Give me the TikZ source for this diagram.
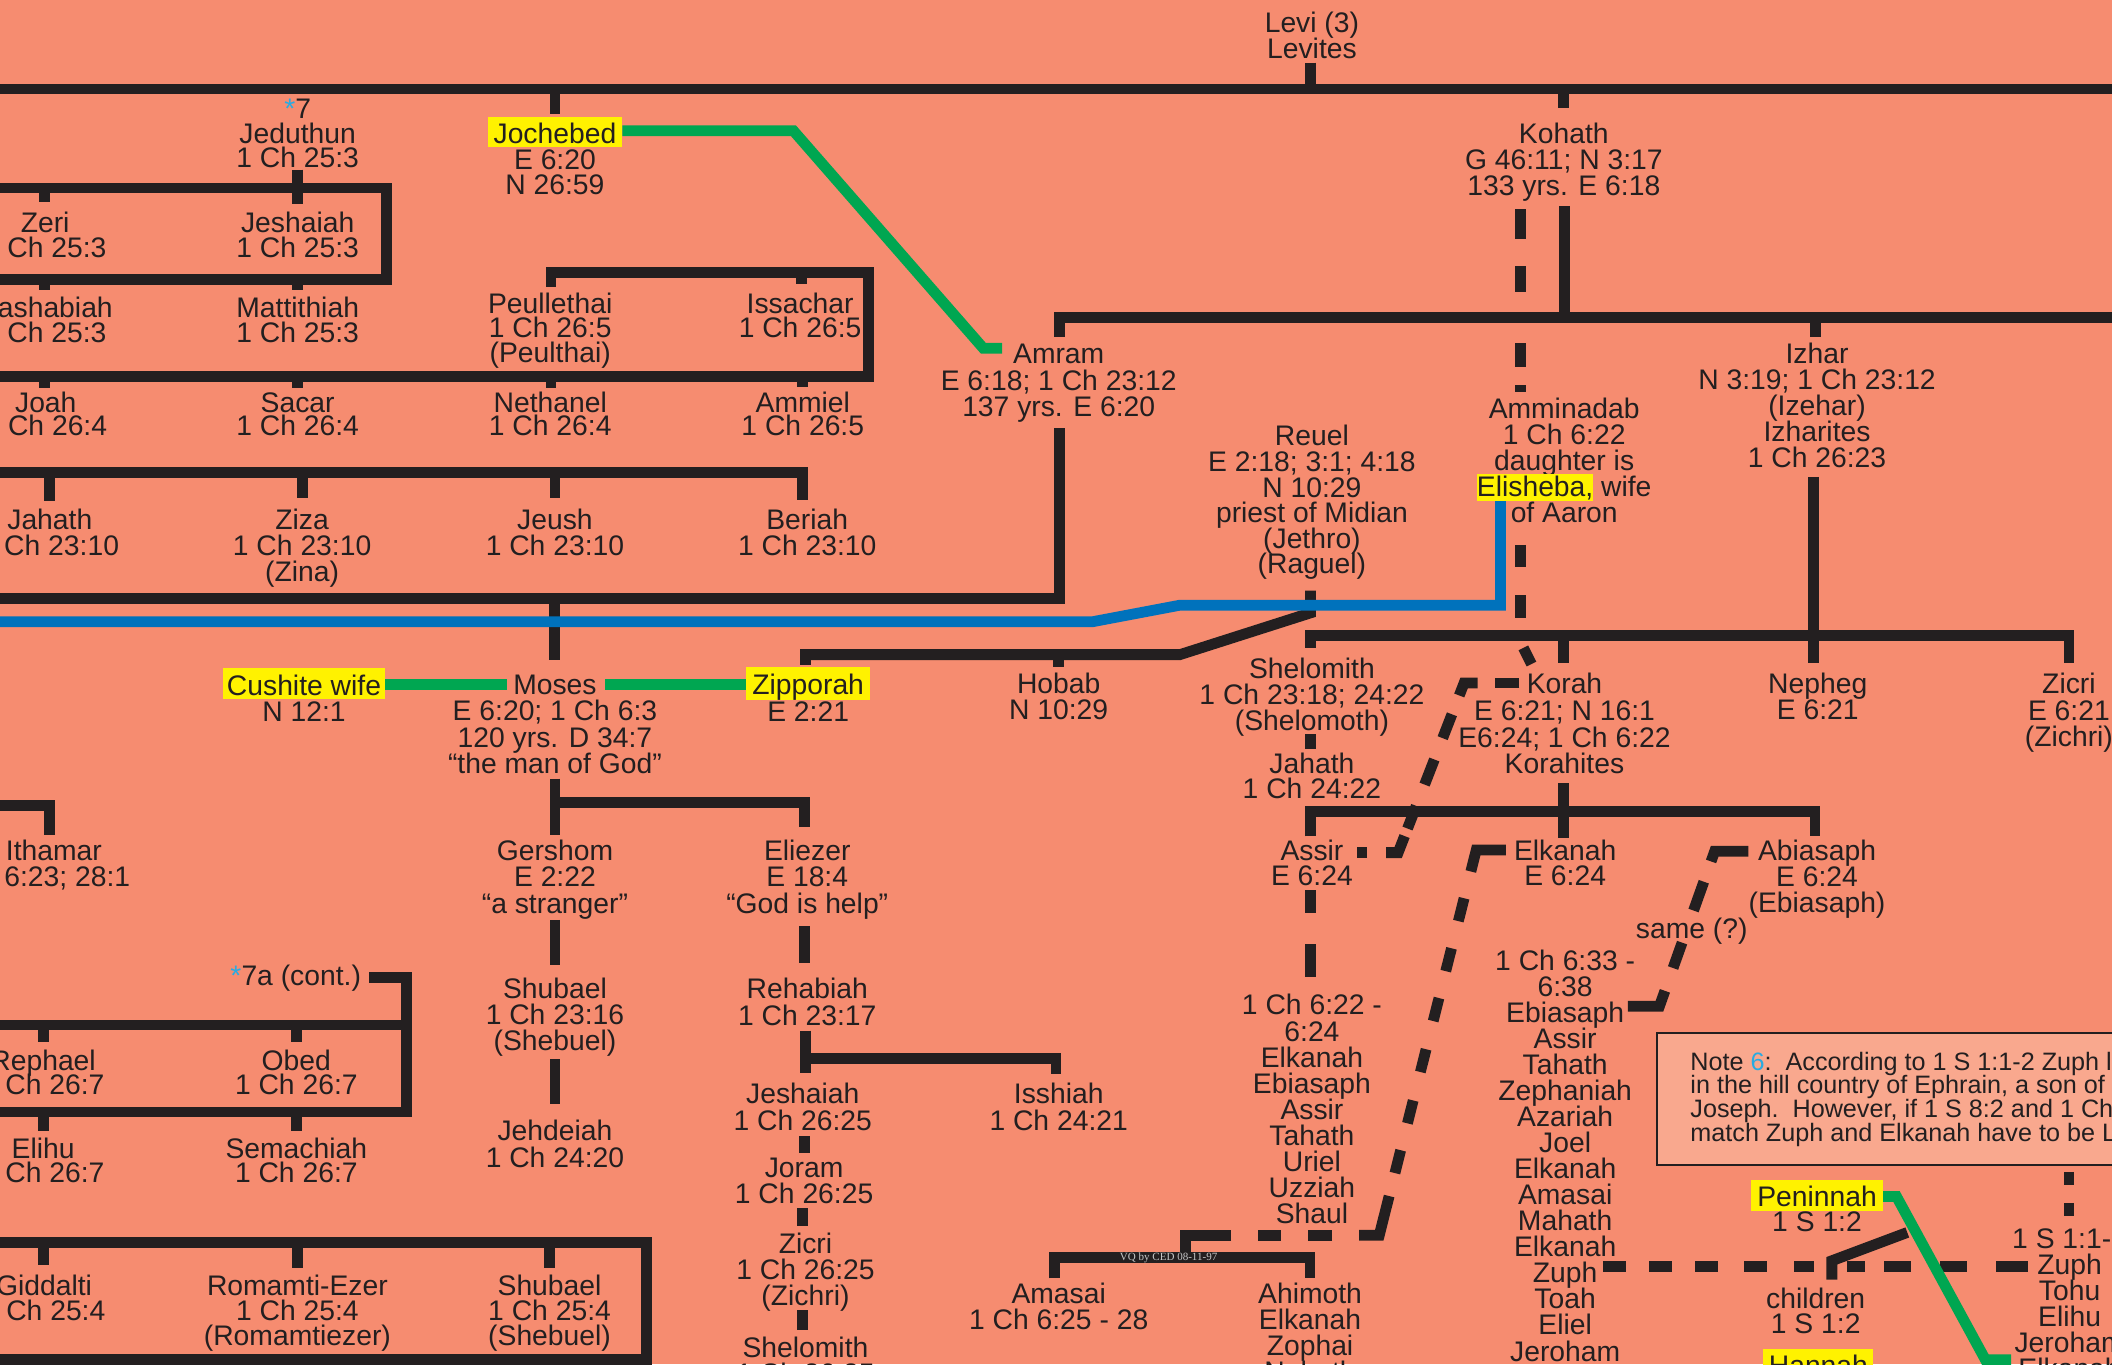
\documentclass[tikz,border=0pt]{standalone}
\usepackage{fontspec}
\setmainfont{Liberation Sans}
\newfontfamily\vqfont{Liberation Serif}
\usetikzlibrary{calc}
\definecolor{bg}{RGB}{246,140,112}
\definecolor{ink}{RGB}{35,31,32}
\definecolor{hly}{RGB}{255,242,0}
\definecolor{gr}{RGB}{0,166,81}
\definecolor{bl}{RGB}{0,114,188}
\definecolor{sb}{RGB}{41,171,226}
\definecolor{notefill}{RGB}{249,168,142}
\newcommand\R{\rule{0pt}{20pt}}
\newcommand\fs[1]{\fontsize{21}{#1}\selectfont\lineskiplimit=-100pt\relax}
\newcommand\fsn{\fontsize{18.7}{17.6}\selectfont\lineskiplimit=-100pt\relax}
\newcommand\fsvq{\vqfont\fontsize{8.2}{8.2}\selectfont}
\newcommand\hl[2][4pt]{{\fboxsep=0pt\colorbox{hly}{\rule[-3pt]{0pt}{23pt}\hspace{#1}#2\hspace{#1}}}}
\newcommand\hlE[1]{{\fboxsep=0pt\colorbox{hly}{\rule[-3pt]{0pt}{20pt}#1}}}
\newcommand\bstar{{\color{sb}*}}
\begin{document}
\begin{tikzpicture}[x=1pt,y=-1pt,
  t/.style={align=center, inner sep=0pt, outer sep=0pt, anchor=north, text=ink, font=\fs{19.4}, yshift=-1.5pt},
  bs/.style={font=\fs{#1}},
  ln/.style={draw=ink, line width=8pt},
  gln/.style={draw=gr, line width=8pt},
  bln/.style={draw=bl, line width=8pt}]
\useasboundingbox (0,0) rectangle (1568,1013);
\fill[bg] (0,0) rectangle (1568,1013);
\clip (0,0) rectangle (1568,1013);

% ---------- solid connectors ----------
\draw[ln] (0,66) -- (1568,66);
\draw[ln] (973,46.5) -- (973,66);
\draw[ln] (412,66) -- (412,85);
\draw[ln] (1161,66) -- (1161,80.4);
% Jeduthun box
\draw[ln] (221,126) -- (221,139.6);
\draw[ln] (0,139.6) -- (287,139.6) -- (287,207.5) -- (0,207.5);
\foreach \x/\a/\b in {33.3/139.6/149.7, 221/139.6/151.7, 33.3/207.5/215.3, 221/207.5/215.3}
  \draw[ln] (\x,\a) -- (\x,\b);
% Peullethai / Issachar box
\draw[ln] (409,212.9) -- (409,202.3) -- (645,202.3) -- (645,279.4) -- (0,279.4);
\foreach \x/\a/\b in {595/202.3/211, 33.3/279.4/288.4, 221/279.4/288.4, 409/279.4/288.4, 596/279.4/287.6}
  \draw[ln] (\x,\a) -- (\x,\b);
% Jahath row
\draw[ln] (0,350.5) -- (596,350.5) -- (596,371);
\foreach \x/\b in {36.7/371.7, 224.3/370, 412/370}
  \draw[ln] (\x,350.5) -- (\x,\b);
% Kohath
\draw[ln] (1161.5,153) -- (1161.5,235.5);
\draw[ln] (786.5,250) -- (786.5,235.5) -- (1568,235.5);
\draw[ln] (1348,235.5) -- (1348,250);
% Amram
\draw[ln] (786.5,318) -- (786.5,444.5) -- (0,444.5);
\draw[ln] (411.6,444.5) -- (411.6,490);
% Reuel
\draw[ln] (973,438.5) -- (973,455) -- (876,486) -- (598,486) -- (598,493.7);
\draw[ln] (786,486) -- (786,495);
% Izhar
\draw[ln] (1346.6,354) -- (1346.6,492);
\draw[ln] (973,481) -- (973,471.8) -- (1536,471.8) -- (1536,492.4);
\draw[ln] (1161,471.8) -- (1161,492);
\draw[ln] (973,545) -- (973,556);
% Korah sons
\draw[ln] (1161,581.5) -- (1161,622);
\draw[ln] (973,621) -- (973,602.4) -- (1347.5,602.4) -- (1347.5,620.6);
% Moses sons
\draw[ln] (412,578) -- (412,620);
\draw[ln] (412,595.5) -- (597,595.5) -- (597,613.7);
\draw[ln] (0,598) -- (36.7,598) -- (36.7,620);
\draw[ln] (412,683) -- (412,716.5);
\draw[ln] (412,786.5) -- (412,819.7);
\draw[ln] (597,687.5) -- (597,714.7);
\draw[ln] (597.8,765.2) -- (597.8,796.9);
\draw[ln] (597.8,786) -- (784,786) -- (784,797.4);
\draw[ln] (597,843.5) -- (597,856.3);
\draw[ln] (596,897) -- (596,910.3);
\draw[ln] (596,972.7) -- (596,987.5);
% 7a box
\draw[ln] (274,725.5) -- (302,725.5) -- (302,825.6) -- (0,825.6);
\draw[ln] (0,761) -- (302,761);
\foreach \x/\a/\b in {32.2/761/773.4, 220/761/773.4, 32.2/825.6/839.5, 220/825.6/839.5}
  \draw[ln] (\x,\a) -- (\x,\b);
% Giddalti box
\draw[ln] (0,922.5) -- (479.7,922.5) -- (479.7,1009.5) -- (0,1009.5);
\foreach \x/\b in {32.5/939.2, 220.8/941.7, 408/941.7}
  \draw[ln] (\x,922.5) -- (\x,\b);
% Amasai / Ahimoth
\draw[ln] (782.6,949) -- (782.6,933.6) -- (972.6,933.6) -- (972.6,949);
% children
\draw[ln] (1360,950) -- (1360,936) -- (1416,915);

% ---------- dashed connectors ----------
\draw[ln, dash pattern=on 22.3pt off 19.8pt on 19.1pt off 38.4pt on 17.3pt off 13.7pt on 5pt off 50pt] (1129,155.4) -- (1129,291);
\draw[ln, dash pattern=on 16.4pt off 20.8pt on 17.2pt off 50pt] (1129,404.6) -- (1129,470);
\draw[ln] (1131,481) -- (1137,493);
% Korah -> Assir
\coordinate (C1) at (1087,507);
\coordinate (C2) at (1038,633);
\draw[ln] (1128,507) -- (1110,507);
\draw[ln] (1097,507) -- (C1) -- ($(C1)!10pt!(C2)$);
\foreach \a/\b in {25/44,61/81,98/116}
  \draw[ln] ($(C1)!\a pt!(C2)$) -- ($(C1)!\b pt!(C2)$);
\draw[ln] ($(C1)!122pt!(C2)$) -- (C2) -- (1029,633);
\draw[ln] (1015,633) -- (1007.6,633);
% Elkanah -> Amasai bracket
\coordinate (C3) at (1096,631);
\coordinate (C4) at (1024,917);
\draw[ln] (1118,631) -- (C3) -- ($(C3)!16.5pt!(C4)$);
\foreach \a/\b in {37/54.5, 75.3/92.8, 113.4/131, 152.6/170, 191.8/209.3, 229.9/247.4}
  \draw[ln] ($(C3)!\a pt!(C4)$) -- ($(C3)!\b pt!(C4)$);
\draw[ln] ($(C3)!265pt!(C4)$) -- (C4) -- (1009,917);
\draw[ln] (989,917) -- (971,917);
\draw[ln] (951,917) -- (934,917);
\draw[ln] (914,917) -- (880,917) -- (880,933.6);
% Abiasaph -> Ebiasaph
\coordinate (C5) at (1273,632);
\coordinate (C6) at (1232,747);
\draw[ln] (1298,632) -- (C5) -- ($(C5)!8pt!(C6)$);
\foreach \a/\b in {24/46.7, 72/92}
  \draw[ln] ($(C5)!\a pt!(C6)$) -- ($(C5)!\b pt!(C6)$);
\draw[ln] ($(C5)!110pt!(C6)$) -- (C6) -- (1208.6,747);
% Zuph line
\foreach \a/\b in {1190/1207,1224.5/1241.5,1258.5/1275.5,1295/1312,1332/1347,1371/1384.5,1399/1419,1440.5/1460.5,1482/1505.5}
  \draw[ln] (\a,940) -- (\b,940);
% Assir -> 1 Ch 6:22
\draw[ln] (973,661) -- (973,678);
\draw[ln] (973,701) -- (973,725);
% right column
\draw[ln] (1536,870) -- (1536,880);
\draw[ln] (1536,893) -- (1536,903);

% ---------- marriage / coloured lines ----------
\draw[gln] (462,97) -- (589,97) -- (730,258.5) -- (744,258.5);
\draw[gln] (285.7,508.3) -- (376.7,508.3);
\draw[gln] (449.3,508.3) -- (554.3,508.3);
\draw[gln] (1398,888.3) -- (1408,888.3) -- (1474,1009.5) -- (1493,1009.5);
\draw[bln] (0,461.6) -- (811,461.6) -- (876,449.3) -- (1114,449.3) -- (1114,368.7);

% ---------- note box ----------
\draw[ink, line width=1.2pt, fill=notefill] (1230.3,767) rectangle (1580,865);
\node[anchor=north west, inner sep=0pt, outer sep=0pt, align=left, text=ink, font=\fsn] (note) at (1255,776.5)
  {\rule{0pt}{18pt}Note \textcolor{sb}{6}:\ \ According to 1 S 1:1-2 Zuph l\\in the hill country of Ephrain, a son of\\Joseph.\ \ However, if 1 S 8:2 and 1 Ch\\match Zuph and Elkanah have to be L};

\node[inner sep=0pt, text=black!22, font=\fsvq] (vq) at (867.6,934) {VQ by CED 08-11-97};

% ---------- people ----------
\node[t,bs=19.1] (levi) at (974,2.5) {\R Levi (3)\\Levites};
\node[t] (s7) at (221,66.6) {\R\bstar 7};
\node[t,bs=17.5] (jeduthun) at (221,85) {\R Jeduthun\\1 Ch 25:3};
\node[t,bs=19] (jochebed) at (412,85) {\R\hl{Jochebed}\\E 6:20\\N 26:59};
\node[t,bs=19.3] (kohath) at (1161,85) {\R Kohath\\G 46:11; N 3:17\\133 yrs. E 6:18};
\node[t,bs=18.6] (zeri) at (33.5,151) {\R Zeri\\1 Ch 25:3};
\node[t,bs=18.6] (jeshaiahA) at (221,151) {\R Jeshaiah\\1 Ch 25:3};
\node[t,bs=18.5] (hashabiah) at (33.5,214) {\R Hashabiah\\1 Ch 25:3};
\node[t,bs=18.5] (mattithiah) at (221,214) {\R Mattithiah\\1 Ch 25:3};
\node[t,bs=18] (peullethai) at (408.5,211.4) {\R Peullethai\\1 Ch 26:5\\(Peulthai)};
\node[t,bs=17.5] (issachar) at (594,211.4) {\R Issachar\\1 Ch 26:5};
\node[t,bs=17.5] (joah) at (34,284.5) {\R Joah\\1 Ch 26:4};
\node[t,bs=17.5] (sacar) at (221,284.5) {\R Sacar\\1 Ch 26:4};
\node[t,bs=17.5] (nethanel) at (408.5,284.5) {\R Nethanel\\1 Ch 26:4};
\node[t,bs=17.5] (ammiel) at (596,284.5) {\R Ammiel\\1 Ch 26:5};
\node[t,bs=19.5] (amram) at (786,248.6) {\R Amram\\E 6:18; 1 Ch 23:12\\137 yrs. E 6:20};
\node[t,bs=19.3] (izhar) at (1349,248.6) {\R Izhar\\N 3:19; 1 Ch 23:12\\(Izehar)\\Izharites\\1 Ch 26:23};
\node[t,bs=19.25] (amminadab) at (1161.3,289.5) {\R Amminadab\\1 Ch 6:22\\daughter is\\\hlE{Elisheba,} wife\\of Aaron};
\node[t,bs=19] (reuel) at (974,309.5) {\R Reuel\\E 2:18; 3:1; 4:18\\N 10:29\\priest of Midian\\(Jethro)\\(Raguel)};
\node[t,bs=19.3] (jahathA) at (37,371.5) {\R Jahath\\1 Ch 23:10};
\node[t,bs=19.5] (ziza) at (224.3,371.5) {\R Ziza\\1 Ch 23:10\\(Zina)};
\node[t,bs=19.3] (jeush) at (412,371.5) {\R Jeush\\1 Ch 23:10};
\node[t,bs=19.3] (beriah) at (599.3,371.5) {\R Beriah\\1 Ch 23:10};
\node[t,bs=19.5] (cushite) at (225.7,494.7) {\R\hl[3pt]{Cushite wife}\\N 12:1};
\node[t,bs=19.6] (moses) at (412,494) {\R Moses\\E 6:20; 1 Ch 6:3\\120 yrs. D 34:7\\“the man of God”};
\node[t,bs=20] (zipporah) at (600,494) {\R\hl[4.4pt]{Zipporah}\\E 2:21};
\node[t,bs=19.5] (hobab) at (786,493.5) {\R Hobab\\N 10:29};
\node[t,bs=19.5] (shelomithA) at (974,482) {\R Shelomith\\1 Ch 23:18; 24:22\\(Shelomoth)};
\node[t,bs=18.5] (jahathB) at (974,553) {\R Jahath\\1 Ch 24:22};
\node[t,bs=19.8] (korah) at (1161.5,493.6) {\R Korah\\E 6:21; N 16:1\\E6:24; 1 Ch 6:22\\Korahites};
\node[t,bs=19.4] (nepheg) at (1349.5,493.6) {\R Nepheg\\E 6:21};
\node[t,bs=19.7] (zicriA) at (1536,493.6) {\R Zicri\\E 6:21\\(Zichri)};
\node[t,bs=20] (ithamar) at (40,617) {\R Ithamar\\E 6:23; 28:1};
\node[t,bs=19.7] (gershom) at (412,617.2) {\R Gershom\\E 2:22\\“a stranger”};
\node[t,bs=19.7] (eliezer) at (599.3,617.2) {\R Eliezer\\E 18:4\\“God is help”};
\node[t,bs=19] (assirA) at (974,617) {\R Assir\\E 6:24};
\node[t,bs=19] (elkanahA) at (1162,617) {\R Elkanah\\E 6:24};
\node[t,bs=19.3] (abiasaph) at (1349,617) {\R Abiasaph\\E 6:24\\(Ebiasaph)};
\node[t] (same) at (1256,675) {\R same (?)};
\node[t,anchor=north east] (s7a) at (268,710) {\R\bstar 7a (cont.)};
\node[t,bs=19.2] (shubael) at (412,720) {\R Shubael\\1 Ch 23:16\\(Shebuel)};
\node[t,bs=19.8] (rehabiah) at (599.3,720) {\R Rehabiah\\1 Ch 23:17};
\node[t,bs=19.4] (chron622) at (974,732) {\R 1 Ch 6:22 -\\6:24\\Elkanah\\Ebiasaph\\Assir\\Tahath\\Uriel\\Uzziah\\Shaul};
\node[t,bs=19.35] (chron633) at (1162,698.7) {\R 1 Ch 6:33 -\\6:38\\Ebiasaph\\Assir\\Tahath\\Zephaniah\\Azariah\\Joel\\Elkanah\\Amasai\\Mahath\\Elkanah\\Zuph\\Toah\\Eliel\\Jeroham\\Elkanah};
\node[t,bs=19.3] (rightcol) at (1536.5,905.5) {\R 1 S 1:1-2\\Zuph\\Tohu\\Elihu\\Jeroham\\Elkanah};
\node[t,bs=19.8] (isshiah) at (786,798) {\R Isshiah\\1 Ch 24:21};
\node[t,bs=19.8] (jeshaiahB) at (596,798) {\R Jeshaiah\\1 Ch 26:25};
\node[t,bs=17.5] (rephael) at (32,773.2) {\R Rephael\\1 Ch 26:7};
\node[t,bs=17.5] (obed) at (220,773.2) {\R Obed\\1 Ch 26:7};
\node[t,bs=20] (jehdeiah) at (412,825) {\R Jehdeiah\\1 Ch 24:20};
\node[t,bs=17.5] (elihu) at (32,838.8) {\R Elihu\\1 Ch 26:7};
\node[t,bs=17.5] (semachiah) at (220,838.8) {\R Semachiah\\1 Ch 26:7};
\node[t,bs=19.8] (joram) at (597,852.4) {\R Joram\\1 Ch 26:25};
\node[t,bs=18.5] (peninnah) at (1349,874.5) {\R\hl[4.6pt]{Peninnah}\\1 S 1:2};
\node[t,bs=19.2] (zicriB) at (598,909.3) {\R Zicri\\1 Ch 26:25\\(Zichri)};
\node[t,bs=18.5] (giddalti) at (32.7,940.3) {\R Giddalti\\1 Ch 25:4};
\node[t,bs=18.5] (romamti) at (220.8,940.3) {\R Romamti-Ezer\\1 Ch 25:4\\(Romamtiezer)};
\node[t,bs=18.5] (shubaelB) at (408,940.3) {\R Shubael\\1 Ch 25:4\\(Shebuel)};
\node[t,bs=19.6] (amasai) at (786,946) {\R Amasai\\1 Ch 6:25 - 28};
\node[t,bs=19.5] (ahimoth) at (972.6,946) {\R Ahimoth\\Elkanah\\Zophai\\Nahath};
\node[t,bs=18.5] (children) at (1348,950) {\R children\\1 S 1:2};
\node[t,bs=19.7] (shelomithB) at (598,986) {\R Shelomith\\1 Ch 26:25};
\node[t] (hannah) at (1350,1000) {\R\hl{Hannah}};
\end{tikzpicture}
\end{document}
